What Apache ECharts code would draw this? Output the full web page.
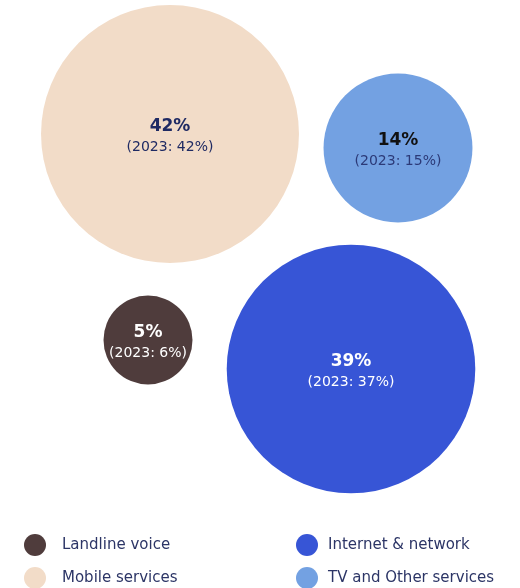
<!DOCTYPE html>
<html>
<head>
<meta charset="utf-8">
<script src="https://cdn.jsdelivr.net/npm/echarts@6/dist/echarts.min.js"></script>
<style>
  html, body { margin: 0; padding: 0; background: #fff; }
  #chart { width: 520px; height: 588px; }
</style>
</head>
<body>
<div id="chart"></div>
<script>
// revenue share by service
const categories = ['Landline voice', 'Mobile services', 'Internet & network', 'TV and Other services'];
const share2024 = [5, 42, 39, 14];
const share2023 = [6, 42, 37, 15];
// bubble centres (packed layout, chart coordinates)
const posX = [148, 170, 351, 398];
const posY = [340, 134, 369, 148];

const colors = ['#4f3c3c', '#f2dcc8', '#3755d6', '#73a1e2'];
const mainText = ['#ffffff', '#1f2a63', '#ffffff', '#111111'];
const subText = ['#ffffff', '#1f2a63', '#ffffff', '#2c3a78'];

const chart = echarts.init(document.getElementById('chart'));

const series = categories.map(function (name, i) {
  return {
    name: name,
    type: 'scatter',
    data: [[posX[i], posY[i], share2024[i], share2023[i]]],
    symbolSize: function (d) { return 39.8 * Math.sqrt(d[2]); },
    itemStyle: { color: colors[i], opacity: 1 },
    emphasis: { disabled: true },
    label: {
      show: true,
      position: 'inside',
      offset: [0, 3],
      formatter: function (p) {
        return '{a|' + p.data[2] + '%}\n{b|(2023: ' + p.data[3] + '%)}';
      },
      rich: {
        a: { fontSize: 17, fontWeight: 'bold', color: mainText[i], lineHeight: 20, fontFamily: 'DejaVu Sans', padding: [0, 0, 2, 0] },
        b: { fontSize: 14, color: subText[i], lineHeight: 18, fontFamily: 'DejaVu Sans' }
      }
    }
  };
});

// legend: two columns, each one vertical pair
function legendCol(left, names, gap) {
  return {
    orient: 'vertical', left: left, top: 534, height: 70, padding: 0,
    icon: 'circle', itemWidth: 22, itemHeight: 22, itemGap: 11,
    selectedMode: false,
    textStyle: { fontSize: 15, color: '#2c3566', fontFamily: 'DejaVu Sans', padding: [0, 0, 0, gap] },
    data: names
  };
}

chart.setOption({
  animation: false,
  grid: { left: 0, right: 0, top: 0, bottom: 0 },
  xAxis: { type: 'value', min: 0, max: 520, show: false },
  yAxis: { type: 'value', min: 0, max: 588, inverse: true, show: false },
  legend: [
    legendCol(24, [categories[0], categories[1]], 11),
    legendCol(296, [categories[2], categories[3]], 5)
  ],
  series: series
});
</script>
</body>
</html>
